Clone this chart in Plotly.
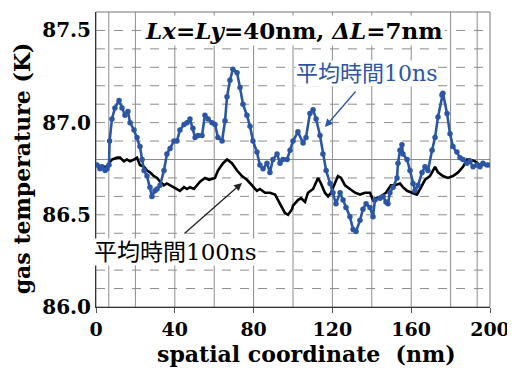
import plotly.graph_objects as go

# ---- data ----
x_10ns = [0.5, 2.0, 3.0, 4.6, 5.6, 6.6, 6.9, 8.1, 9.6, 11.7, 13.2, 14.7, 16.2, 17.3, 19.3, 20.8,
          22.3, 23.4, 24.4, 25.9, 27.4, 28.4, 29.9, 31.0, 32.5, 34.5, 36.0, 37.6, 39.6, 41.1,
          42.6, 44.7, 46.2, 47.7, 49.2, 50.3, 51.8, 53.8, 55.3, 56.9, 58.9, 60.4, 61.9, 64.0,
          65.5, 66.5, 68.0, 69.5, 71.6, 73.1, 74.6, 76.6, 78.2, 79.7, 81.7, 83.2, 84.8, 86.8,
          88.3, 89.8, 91.9, 93.4, 94.9, 97.0, 98.5, 100.0, 102.5, 105.1, 106.6, 108.6, 110.2,
          111.7, 113.7, 115.2, 116.8, 118.8, 120.3, 121.8, 123.9, 125.4, 126.9, 128.9, 130.5,
          132.0, 134.0, 135.5, 137.1, 139.1, 140.6, 141.6, 144.2, 145.7, 147.2, 148.2, 149.2,
          150.8, 152.8, 153.3, 154.3, 155.3, 155.8, 157.9, 159.4, 160.9, 161.9, 163.5, 165.5,
          167.0, 168.5, 170.6, 172.1, 173.6, 175.6, 176.1, 178.2, 179.7, 181.2, 183.2, 184.8,
          186.3, 188.3, 189.8, 191.4, 193.4, 194.9, 196.4, 198.5, 200.0]
t_10ns = [86.77, 86.75, 86.76, 86.74, 86.75, 86.77, 86.90, 87.02, 87.08, 87.12, 87.08, 87.04, 87.06,
          87.00, 86.96, 86.92, 86.87, 86.80, 86.74, 86.71, 86.65, 86.60, 86.63, 86.64, 86.66, 86.74,
          86.83, 86.86, 86.90, 86.90, 86.96, 86.99, 87.00, 87.02, 86.97, 86.92, 86.93, 86.93, 87.04,
          87.02, 87.00, 86.99, 86.92, 86.90, 87.01, 87.14, 87.23, 87.29, 87.27, 87.19, 87.10, 87.04,
          86.98, 86.90, 86.84, 86.77, 86.75, 86.78, 86.73, 86.80, 86.83, 86.78, 86.80, 86.80, 86.85,
          86.90, 86.95, 86.89, 86.92, 87.05, 87.07, 87.02, 86.93, 86.83, 86.74, 86.67, 86.62, 86.56,
          86.62, 86.58, 86.54, 86.49, 86.42, 86.41, 86.47, 86.53, 86.56, 86.54, 86.49, 86.58, 86.59,
          86.60, 86.57, 86.56, 86.62, 86.65, 86.70, 86.78, 86.85, 86.88, 86.83, 86.80, 86.74, 86.67,
          86.63, 86.66, 86.73, 86.76, 86.74, 86.85, 86.92, 87.03, 87.15, 87.16, 87.05, 86.94, 86.87,
          86.84, 86.81, 86.80, 86.78, 86.79, 86.76, 86.77, 86.76, 86.78, 86.77, 86.77]

x_100ns = [0.5, 3.0, 5.6, 6.6, 8.1, 10.7, 12.2, 14.2, 15.7, 17.3, 19.3, 20.8, 22.3, 24.4, 25.9, 27.4,
           29.4, 31.0, 32.5, 34.5, 36.0, 37.6, 39.6, 41.1, 42.6, 44.7, 46.2, 47.7, 49.7, 52.8, 55.3,
           57.4, 60.4, 61.9, 64.5, 66.5, 69.0, 71.6, 74.1, 76.6, 79.2, 81.7, 83.2, 85.8, 88.3, 90.9,
           92.4, 94.4, 95.9, 97.5, 99.5, 100.0, 102.5, 104.1, 106.1, 107.6, 110.2, 112.7, 114.2,
           116.2, 117.8, 119.3, 121.3, 122.8, 124.4, 126.4, 128.9, 131.5, 134.0, 136.5, 139.1, 140.6,
           142.1, 144.7, 147.2, 149.7, 151.8, 154.3, 155.8, 157.9, 160.4, 162.9, 164.5, 167.0, 169.5,
           172.1, 173.6, 176.1, 178.7, 181.2, 183.8, 186.3, 188.3, 189.8, 192.4, 194.9, 197.5, 200.0]
t_100ns = [86.77, 86.76, 86.76, 86.78, 86.80, 86.81, 86.81, 86.79, 86.80, 86.79, 86.80, 86.81, 86.77,
           86.76, 86.74, 86.73, 86.71, 86.70, 86.68, 86.66, 86.67, 86.66, 86.65, 86.64, 86.63, 86.65,
           86.64, 86.65, 86.64, 86.68, 86.70, 86.69, 86.70, 86.74, 86.78, 86.80, 86.78, 86.74, 86.71,
           86.69, 86.66, 86.63, 86.64, 86.62, 86.62, 86.61, 86.58, 86.54, 86.51, 86.50, 86.53, 86.55,
           86.58, 86.59, 86.57, 86.62, 86.64, 86.70, 86.67, 86.62, 86.60, 86.62, 86.67, 86.71, 86.70,
           86.66, 86.64, 86.62, 86.61, 86.62, 86.62, 86.58, 86.59, 86.60, 86.62, 86.66, 86.66, 86.67,
           86.65, 86.63, 86.62, 86.61, 86.64, 86.69, 86.71, 86.76, 86.73, 86.71, 86.70, 86.71, 86.73,
           86.76, 86.80, 86.80, 86.79, 86.77, 86.77, 86.77]

x_ticks = [0, 40, 80, 120, 160, 200]
y_ticks = [86.0, 86.5, 87.0, 87.5]
v_grid = [6.5, 20, 40, 60, 80, 100, 120, 140, 160, 180, 193.5]
h_grid = [86.1, 86.2, 86.3, 86.4, 86.5, 86.6, 86.7, 86.8, 86.9, 87.0, 87.1, 87.2, 87.3, 87.4, 87.5]
h_solid = [86.8]

BLUE = "#2b56a6"
FONT = "DejaVu Serif, Noto Sans CJK JP"

fig = go.Figure()

fig.add_trace(go.Scatter(x=x_100ns, y=t_100ns, mode="lines",
                         line=dict(color="black", width=2.6), showlegend=False))
fig.add_trace(go.Scatter(x=x_10ns, y=t_10ns, mode="lines+markers",
                         line=dict(color=BLUE, width=2.6),
                         marker=dict(color=BLUE, size=5.5), showlegend=False))

shapes = []
for v in v_grid:
    shapes.append(dict(type="line", xref="x", yref="paper", x0=v, x1=v, y0=0, y1=1,
                       line=dict(color="#8c8c8c", width=1), layer="below"))
for h in h_grid:
    shapes.append(dict(type="line", xref="paper", yref="y", x0=0, x1=1, y0=h, y1=h,
                       line=dict(color="#8c8c8c", width=1,
                                 dash="solid" if h in h_solid else "dash"),
                       layer="below"))
shapes.append(dict(type="rect", xref="paper", yref="paper", x0=0, x1=1, y0=0, y1=1,
                   line=dict(color="#777777", width=1), layer="below"))

annotations = [
    dict(x=100.5, y=87.5, xref="x", yref="y",
         text="<b><i>Lx</i>=<i>Ly</i>=40nm, <i>ΔL</i>=7nm</b>",
         showarrow=False, font=dict(family=FONT, size=23, color="black"),
         bgcolor="white", borderpad=1),
    dict(x=137.3, y=87.264, xref="x", yref="y", text="平均時間10ns",
         showarrow=False, font=dict(family=FONT, size=22, color=BLUE),
         bgcolor="white", borderpad=0),
    dict(x=116.2, y=86.976, xref="x", yref="y", text="", showarrow=True,
         ax=32, ay=-37, arrowhead=2, arrowsize=1.2, arrowwidth=1.3, arrowcolor=BLUE),
    dict(x=40.6, y=86.298, xref="x", yref="y", text="平均時間100ns",
         showarrow=False, font=dict(family=FONT, size=23, color="black"),
         bgcolor="white", borderpad=0),
    dict(x=74.1, y=86.673, xref="x", yref="y", text="", showarrow=True,
         ax=-59, ay=52, arrowhead=2, arrowsize=1.2, arrowwidth=1.3, arrowcolor="#222222"),
    dict(x=0.535, y=-0.159, xref="paper", yref="paper", yanchor="middle", xanchor="center",
         text="spatial coordinate  (nm)", showarrow=False,
         font=dict(family=FONT, size=22, color="black", weight="bold")),
    dict(x=-0.188, y=0.47, xref="paper", yref="paper", yanchor="middle", xanchor="center",
         text="gas temperature (K)", showarrow=False, textangle=-90,
         font=dict(family=FONT, size=22, color="black", weight="bold")),
]

# the page body has an 8px margin, so the figure is 8px smaller than the window
fig.update_layout(
    width=507, height=362,
    margin=dict(l=88, r=25, t=4, b=63, autoexpand=False),
    paper_bgcolor="white", plot_bgcolor="white",
    shapes=shapes, annotations=annotations,
    font=dict(family=FONT, color="black"),
    xaxis=dict(range=[0, 200], tickvals=x_ticks, ticktext=[str(v) for v in x_ticks],
               showgrid=False, zeroline=False, showline=True, linecolor="#333333",
               linewidth=1, ticks="outside", ticklen=5, tickcolor="#555555", automargin=False,
               tickfont=dict(family=FONT, size=19, color="black", weight="bold")),
    yaxis=dict(range=[86.0, 87.6], tickvals=y_ticks, ticktext=[f"{v:.1f}" for v in y_ticks],
               showgrid=False, zeroline=False, showline=True, linecolor="#333333",
               linewidth=1, ticks="", automargin=False,
               tickfont=dict(family=FONT, size=20, color="black", weight="bold")),
)

fig.write_html("out.html")
